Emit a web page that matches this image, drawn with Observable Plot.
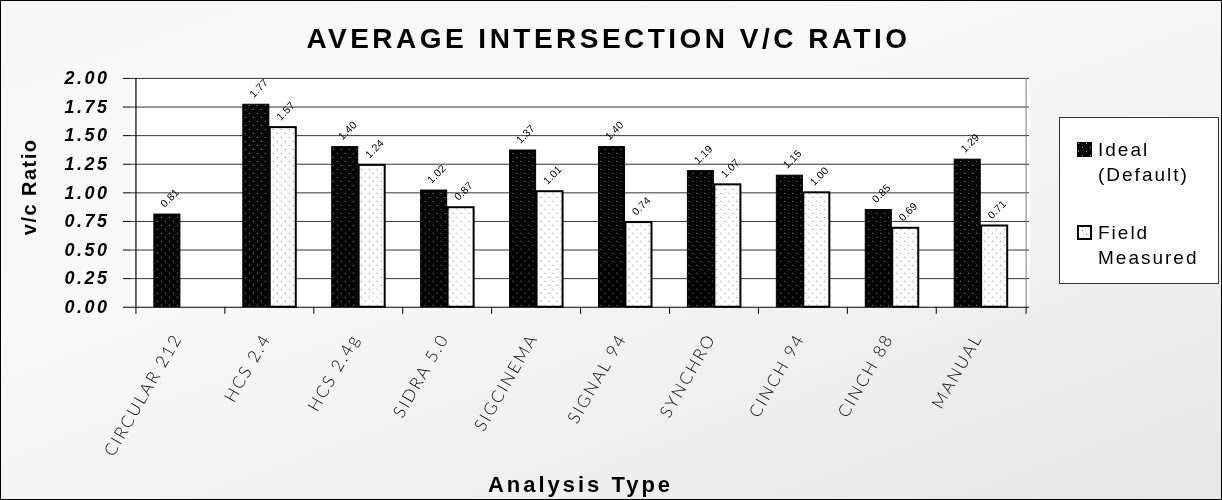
<!DOCTYPE html>
<html>
<head>
<meta charset="utf-8">
<script src="https://cdn.jsdelivr.net/npm/d3@7"></script>
<script src="https://cdn.jsdelivr.net/npm/@observablehq/plot@0.6"></script>
<style>
  html, body { margin: 0; padding: 0; background: #fff; }
  #wrap {
    position: relative; width: 1222px; height: 500px; box-sizing: border-box;
    border: 1px solid #000;
    background: linear-gradient(160deg, #f7f7f7 0%, #f9f9f9 35%, #f1f1f1 65%, #e6e6e6 100%);
    font-family: "Liberation Sans", Arial, sans-serif;
    overflow: hidden;
  }
  #chart { position: absolute; left: -1px; top: -1px; will-change: transform; }
  #chart g[font-size^="28"] { letter-spacing: 3.5px; }
  #chart g[font-size^="22"] { letter-spacing: 3px; }
  #chart g[font-size^="20"] { letter-spacing: 1.5px; }
  #chart g[font-size^="18"] { letter-spacing: 2.5px; }
  #chart g[font-size^="17"] { letter-spacing: 2px; }
  #chart g[font-size^="10.5"] { letter-spacing: 0.2px; }
  #legend {
    position: absolute; left: 1058px; top: 116px; width: 160px; height: 167px;
    box-sizing: border-box; border: 1px solid #333; background: #fff;
    font-family: "Liberation Sans", Arial, sans-serif; font-size: 19px; color: #000;
    letter-spacing: 2px; will-change: transform;
  }
  .item { position: absolute; left: 17px; }
  .item svg { position: absolute; left: 0; top: 5px; }
  .item .lbl { position: absolute; left: 21px; top: 0; line-height: 25px; white-space: nowrap; }
</style>
</head>
<body>
<svg width="0" height="0" style="position:absolute">
  <defs>
    <pattern id="patIdeal" width="8" height="8" patternUnits="userSpaceOnUse">
      <rect width="8" height="8" fill="#000"/>
      <rect x="1" y="1" width="1" height="1" fill="#9a9a9a"/>
      <rect x="5" y="5" width="1" height="1" fill="#9a9a9a"/>
    </pattern>
    <pattern id="patField" width="8" height="8" patternUnits="userSpaceOnUse">
      <rect width="8" height="8" fill="#fff"/>
      <rect x="1" y="1" width="1" height="1" fill="#7a7a7a"/>
      <rect x="5" y="5" width="1" height="1" fill="#7a7a7a"/>
    </pattern>
  </defs>
</svg>
<div id="wrap">
  <div id="chart"></div>
  <div id="legend"></div>
</div>
<script>
const titleText = "AVERAGE INTERSECTION V/C RATIO";
const xLabel = "Analysis Type";
const yLabel = "v/c Ratio";
const categories = ["CIRCULAR 212", "HCS 2.4", "HCS 2.4g", "SIDRA 5.0", "SIGCINEMA", "SIGNAL 94", "SYNCHRO", "CINCH 94", "CINCH 88", "MANUAL"];
const idealValues = [0.81, 1.77, 1.40, 1.02, 1.37, 1.40, 1.19, 1.15, 0.85, 1.29];
const fieldValues = [null, 1.57, 1.24, 0.87, 1.01, 0.74, 1.07, 1.00, 0.69, 0.71];
const seriesNames = ["Ideal\n(Default)", "Field\nMeasured"];
const yTicks = [0, 0.25, 0.5, 0.75, 1.0, 1.25, 1.5, 1.75, 2.0];

const ideal = categories.map((c, i) => ({cat: c, value: idealValues[i]})).filter(d => d.value != null);
const field = categories.map((c, i) => ({cat: c, value: fieldValues[i]})).filter(d => d.value != null);

const W = 1222, H = 500;
const mL = 131, mR = 192, mT = 78, mB = 193;
const band = (W - mL - mR) / categories.length;
const barW = band * 0.3;
const gap = band * 0.2;
const fmt = d3.format(".2f");

const plot = Plot.plot({
  width: W, height: H,
  marginLeft: mL, marginRight: mR, marginTop: mT, marginBottom: mB,
  style: {background: "transparent", fontFamily: "'Liberation Sans', Arial, sans-serif", color: "#000"},
  x: {type: "band", domain: categories, padding: 0, axis: null},
  y: {domain: [0, 2], axis: null},
  marks: [
    Plot.frame({fill: "white", stroke: "none"}),
    Plot.ruleY(yTicks.filter(d => d > 0), {y: d => d, stroke: "#333", strokeWidth: 1}),
    Plot.barY(ideal, {x: "cat", y: "value", fill: "url(#patIdeal)", stroke: "#000", strokeWidth: 1,
      insetLeft: gap, insetRight: band - gap - barW}),
    Plot.barY(field, {x: "cat", y: "value", fill: "url(#patField)", stroke: "#000", strokeWidth: 2,
      insetLeft: gap + barW, insetRight: gap}),
    Plot.ruleY([0], {stroke: "#000", strokeWidth: 1.2}),
    Plot.ruleX([categories[0]], {x: d => d, dx: -band / 2, stroke: "#000", strokeWidth: 1.2}),
    Plot.ruleX([categories[categories.length - 1]], {x: d => d, dx: band / 2, stroke: "#7a7a7a", strokeWidth: 1}),
    Plot.ruleX(categories, {x: d => d, dx: -band / 2, y1: 0, y2: -0.062, stroke: "#000"}),
    Plot.ruleX([categories[categories.length - 1]], {x: d => d, dx: band / 2, y1: 0, y2: -0.062, stroke: "#000"}),
    // y axis tick marks
    Plot.axisY({ticks: yTicks, tickSize: 8, tickFormat: () => "", label: null, stroke: "#000"}),
    Plot.text(yTicks, {y: d => d, text: d => fmt(d), frameAnchor: "left", dx: -22, textAnchor: "end",
      fontSize: 18, fontWeight: "bold", fontStyle: "italic"}),
    // value labels
    Plot.text(ideal, {x: "cat", y: "value", text: d => fmt(d.value), dx: -band * 0.15 - 5, dy: -9,
      rotate: -45, textAnchor: "start", lineAnchor: "middle", fontSize: 10.5}),
    Plot.text(field, {x: "cat", y: "value", text: d => fmt(d.value), dx: band * 0.15 - 5, dy: -9,
      rotate: -45, textAnchor: "start", lineAnchor: "middle", fontSize: 10.5}),
    // x tick labels
    Plot.text(categories, {x: d => d, text: d => d, frameAnchor: "bottom", dx: -3, dy: 28,
      rotate: -60, textAnchor: "end", lineAnchor: "middle", fontSize: 17,
      fontFamily: "Lato, 'DejaVu Sans', sans-serif", fontWeight: 300, fill: "#000"}),
    // titles
    Plot.text([titleText], {text: d => d, frameAnchor: "top", dx: 28, dy: -30, lineAnchor: "bottom",
      fontSize: 28, fontWeight: "bold"}),
    Plot.text([xLabel], {text: d => d, frameAnchor: "bottom", dx: 0, dy: 185, lineAnchor: "bottom",
      fontSize: 22, fontWeight: "bold"}),
    Plot.text([yLabel], {text: d => d, frameAnchor: "left", dx: -102, dy: -6, rotate: -90,
      textAnchor: "middle", lineAnchor: "middle", fontSize: 20, fontWeight: "bold"})
  ]
});
document.getElementById("chart").appendChild(plot);

// legend
const legend = document.getElementById("legend");
const fills = ["url(#patIdeal)", "url(#patField)"];
const strokes = [1, 2];
const tops = [19, 102];
seriesNames.forEach((name, i) => {
  const item = document.createElement("div");
  item.className = "item";
  item.style.top = tops[i] + "px";
  item.innerHTML = `<svg width="16" height="16"><rect x="${strokes[i]/2}" y="${strokes[i]/2}" width="${15 - strokes[i]}" height="${15 - strokes[i]}" fill="${fills[i]}" stroke="#000" stroke-width="${strokes[i]}"/></svg>`;
  const lbl = document.createElement("div");
  lbl.className = "lbl";
  lbl.innerHTML = name.split("\n").map(s => `<div>${s}</div>`).join("");
  item.appendChild(lbl);
  legend.appendChild(item);
});
</script>
</body>
</html>
